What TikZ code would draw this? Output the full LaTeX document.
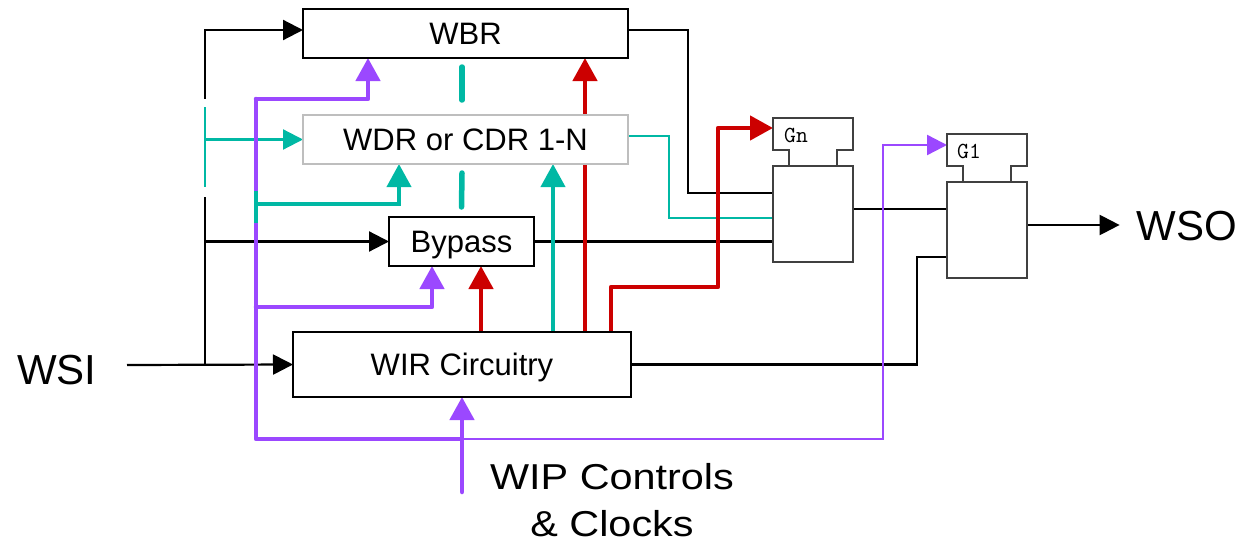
\documentclass[tikz,border=0pt]{standalone}
\usepackage{fontspec}
\setmainfont{Liberation Sans}
\newfontfamily\stretchsans[FakeStretch=1.15]{Liberation Sans}
\usetikzlibrary{arrows.meta,backgrounds}
\definecolor{ctlviolet}{RGB}{155,72,255}
\definecolor{dteal}{RGB}{0,184,164}
\definecolor{selred}{RGB}{204,0,0}
\definecolor{wdrgray}{RGB}{190,190,190}
\definecolor{gategray}{RGB}{64,64,64}

\begin{document}
\begin{tikzpicture}[
    x=1pt, y=-1pt,
    box/.style={draw,fill=white,line width=2pt,inner sep=0pt,outer sep=0pt,minimum height=49pt,text height=22pt,text depth=0pt,font=\fontsize{31}{36}\selectfont},
    gate/.style={draw=gategray,line width=2pt},
    gatebox/.style={inner sep=0pt,outer sep=0pt,minimum width=80pt},
    glabel/.style={anchor=base west,inner sep=0pt,font=\ttfamily\fontsize{23}{23}\selectfont},
    port/.style={inner sep=0pt,font=\fontsize{42}{46}\selectfont},
    wire/.style={line width=2.2pt},
    arrow/.style={-{Triangle[length=20pt,width=20pt]}},
    bigarrow/.style={-{Triangle[length=23pt,width=24pt]}},
    ctl/.style={draw=ctlviolet,line width=4.5pt,line cap=round,line join=round},
    ctlthin/.style={draw=ctlviolet,line width=2.4pt},
    dat/.style={draw=dteal,line width=2.2pt},
    datbus/.style={draw=dteal,line width=4pt},
    more/.style={draw=dteal,line width=5.5pt,line cap=round},
    sel/.style={draw=selred,line width=4.5pt,line join=round}
]
\useasboundingbox (0,0) rectangle (1240,546);

\node[box,minimum width=325pt] (wbr) at (465.5,33.5) {WBR};
\node[box,draw=wdrgray,minimum width=325pt] (wdr) at (465.5,139.5) {WDR or CDR 1-N};
\node[box,minimum width=145pt] (bypass) at (461.5,241.5) {Bypass};
\node[box,minimum width=338pt,minimum height=65pt] (wir) at (462,364.5) {WIR Circuitry};

\node[gatebox,minimum height=32pt] (gn-tab) at (813,134) {};
\node[gatebox,gate,minimum height=96pt] (gn-body) at (813,214) {};
\node[gatebox,minimum height=32pt] (g1-tab) at (987,150) {};
\node[gatebox,gate,minimum height=96pt] (g1-body) at (987,230) {};
\foreach \g in {gn,g1}
  \draw[gate] ([xshift=16pt]\g-body.north west) |- (\g-tab.south west) |- (\g-tab.north east)
    |- ([xshift=-16pt]\g-tab.south east) -- ([xshift=-16pt]\g-body.north east);
\node[glabel] (gn-lbl) at ([xshift=11pt,yshift=-24pt]gn-tab.north west) {Gn};
\node[glabel] (g1-lbl) at ([xshift=10pt,yshift=-24pt]g1-tab.north west) {G1};

\node[port] (wsi) at (57,370) {WSI};
\node[port] (wso) at (1187,226) {WSO};
\node[anchor=north,inner sep=0pt,align=center,font=\stretchsans\fontsize{36}{47}\selectfont] (wip) at (612,463.5) {WIP Controls\\\& Clocks};

\coordinate (wsi-in) at (127,365);
\coordinate (fork) at (205,365);
\coordinate (dat-top) at (205,107);
\coordinate (dat-bot) at (205,187);
\coordinate (wdr-sel) at (256,204);
\coordinate (ctl-top) at (256,99);
\coordinate (ctl-byp) at (256,307);
\coordinate (ctl-bot) at (256,439);
\coordinate (ctl-tap) at (462,439);
\coordinate (wip-in) at (462,492);
\coordinate (tap-byp) at ([xshift=19pt]wir.north);
\coordinate (tap-wdr) at ([xshift=91pt]wir.north);
\coordinate (tap-wbr) at ([xshift=123pt]wir.north);
\coordinate (tap-gn) at ([xshift=149pt]wir.north);
\coordinate (gn-out) at ([yshift=5pt]gn-body.east);
\coordinate (g1-out) at ([yshift=5pt]g1-body.east);

\begin{scope}[on background layer]
\draw[wire,arrow] (wsi-in) -- (wir.west);
\draw[wire,arrow] (fork) |- ([yshift=3.5pt]wbr.west);
\draw[wire,arrow] (fork |- bypass.west) -- (bypass.west);
\draw[white,line width=6pt,shorten <=-8pt,shorten >=-10pt] (dat-top) -- (dat-bot);
\draw[dat] (dat-top) -- (dat-bot);
\draw[dat,arrow] (dat-top |- wdr.west) -- (wdr.west);

\draw[wire] ([yshift=3.5pt]wbr.east) -| (688,193) -- ([yshift=21pt]gn-body.west);
\draw[dat] ([yshift=3.5pt]wdr.east) -| (669,218) -- ([yshift=-4pt]gn-body.west);
\draw[wire] (bypass.east) -- (bypass.east -| gn-body.west);
\draw[wire] (gn-out) -- (gn-out -| g1-body.west);
\draw[wire] (wir.east) -| (917,257) -- ([yshift=-27pt]g1-body.west);
\draw[wire,arrow,shorten >=17pt] (g1-out) -- (g1-out -| wso.west);

\draw[ctl] (ctl-top) -- (ctl-bot) -- (ctl-tap);
\draw[ctl,bigarrow] (ctl-top) -| ([xshift=-97.5pt]wbr.south);
\draw[ctl,bigarrow] (ctl-byp) -| ([xshift=-29.5pt]bypass.south);
\draw[ctl,bigarrow] (wip-in) -- (wir.south);
\draw[ctlthin,arrow] (ctl-tap) -- ++(421,0) |- ([yshift=5pt]g1-tab.west);

\draw[datbus] (256,191) -- (256,223);
\draw[datbus,bigarrow] (wdr-sel) -| ([xshift=-66.5pt]wdr.south);
\draw[datbus,bigarrow] (tap-wdr) -- (tap-wdr |- wdr.south);
\draw[more] ([xshift=-3.5pt,yshift=-9pt]wbr.south) -- ([xshift=-3.5pt,yshift=15pt]wdr.north);
\draw[more] ([xshift=-3.5pt,yshift=-9pt]wdr.south) -- ([yshift=10pt]bypass.north);

\draw[sel,bigarrow] (tap-byp) -- (tap-byp |- bypass.south);
\draw[sel,bigarrow] (tap-wbr) -- (tap-wbr |- wbr.south);
\draw[sel,bigarrow] (tap-gn) |- (718,287) |- ([yshift=6pt]gn-tab.west);
\end{scope}

\end{tikzpicture}
\end{document}
